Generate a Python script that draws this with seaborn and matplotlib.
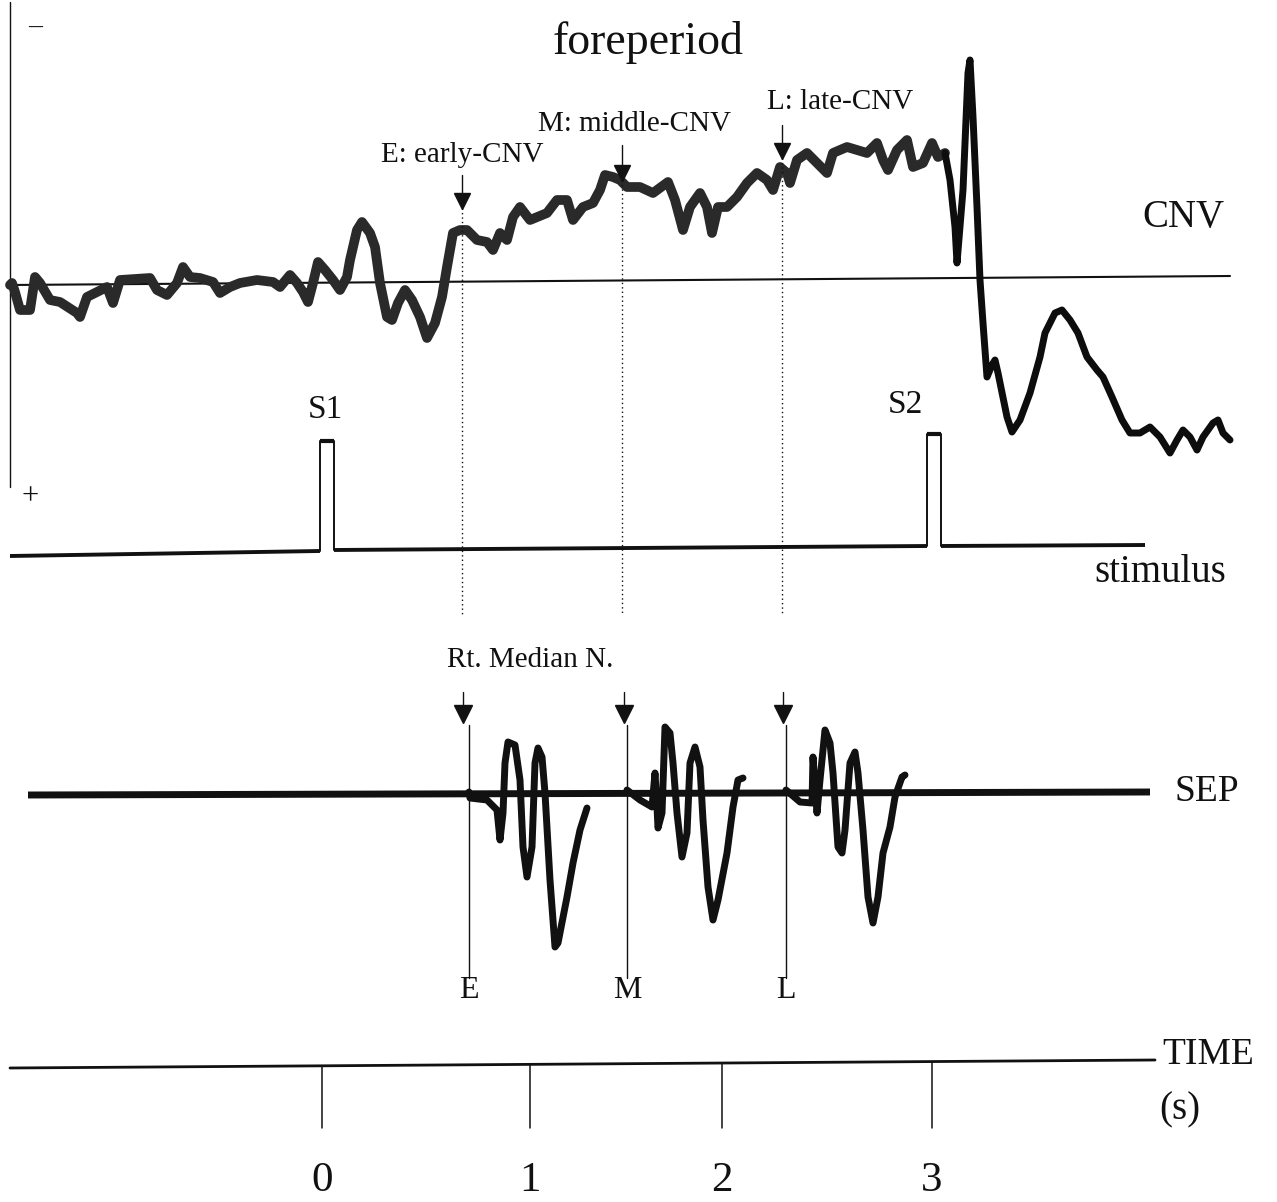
import matplotlib

matplotlib.use("Agg")

import matplotlib.pyplot as plt
import numpy as np
import pandas as pd
import seaborn as sns

# digitized diagram coordinates (x to the right, y downwards, as on the page)
CNV_PRE_X = [10, 12, 15, 20, 30, 35, 40, 50, 60, 77, 80, 87, 97, 107, 113, 120, 150, 157, 167, 177,
             183, 190, 200, 213, 220, 230, 240, 257, 273, 280, 290, 297, 303, 308, 313, 318, 325, 333,
             340, 347, 350, 357, 362, 370, 375, 380, 387, 392, 398, 405, 412, 420, 427, 435, 442, 447,
             453, 460, 467, 477, 487, 493, 500, 507, 513, 520, 530, 547, 557, 567, 573, 583, 593, 600,
             605, 613, 620, 627, 640, 653, 668, 675, 683, 690, 700, 707, 712, 718, 727, 737, 747, 757,
             767, 773, 780, 787, 790, 797, 807, 817, 827, 833, 847, 867, 877, 883, 888, 897, 907, 913,
             923, 932, 938, 945]
CNV_PRE_Y = [285, 283, 292, 310, 310, 277, 283, 300, 302, 313, 317, 297, 292, 287, 303, 280, 278, 290, 295, 283,
             267, 277, 278, 282, 293, 287, 283, 280, 282, 287, 275, 283, 292, 302, 283, 262, 270, 280,
             290, 277, 260, 230, 222, 233, 247, 283, 317, 320, 303, 290, 300, 317, 338, 323, 297, 267,
             233, 230, 230, 240, 242, 250, 233, 240, 217, 207, 220, 213, 200, 200, 220, 207, 203, 190,
             175, 177, 180, 187, 187, 193, 182, 200, 230, 207, 193, 207, 233, 207, 207, 197, 183, 173,
             180, 190, 167, 173, 183, 160, 153, 163, 173, 153, 147, 153, 143, 160, 170, 150, 140, 167,
             163, 143, 157, 153]
CNV_POST_X = [945, 950, 955, 957, 963, 968, 970, 973, 977, 980, 983, 987, 992, 995, 998, 1007, 1012, 1020,
              1030, 1040, 1045, 1055, 1062, 1070, 1078, 1087, 1097, 1103, 1112, 1122, 1130, 1140, 1150,
              1160, 1170, 1177, 1183, 1190, 1197, 1203, 1213, 1218, 1223, 1230]
CNV_POST_Y = [153, 180, 227, 263, 190, 73, 60, 117, 207, 280, 323, 377, 365, 360, 373, 417, 432, 420,
              393, 357, 333, 313, 310, 320, 333, 357, 370, 377, 397, 420, 433, 433, 427,
              437, 453, 440, 430, 437, 450, 437, 423, 420, 433, 440]
CNV_BASE_X = [10, 1230]
CNV_BASE_Y = [285, 276]

STIM_BASE_X = [[10, 320], [334, 927], [941, 1145]]
STIM_BASE_Y = [[556, 551], [550, 546], [546, 545]]
STIM_PULSE_X = [[320, 320, 334, 334], [927, 927, 941, 941]]
STIM_PULSE_Y = [[551, 441, 441, 550], [546, 434, 434, 546]]

SEP_BASE_X = [28, 1150]
SEP_BASE_Y = [795, 792]
SEP_E_X = [469, 470, 487, 497, 500, 503, 505, 508, 515, 520, 523, 527, 532, 535, 538, 542, 545, 550,
           555, 558, 567, 573, 580, 587]
SEP_E_Y = [792, 798, 800, 810, 840, 813, 763, 742, 745, 780, 847, 877, 847, 763, 748, 757, 793, 880,
           947, 943, 897, 863, 830, 808]
SEP_M_X = [627, 640, 652, 655, 657, 658, 662, 665, 670, 673, 677, 682, 687, 690, 695, 700, 703, 708,
           713, 718, 727, 733, 738, 743]
SEP_M_Y = [790, 800, 807, 773, 807, 828, 813, 727, 733, 763, 813, 857, 833, 763, 747, 767, 820, 887,
           920, 900, 853, 807, 780, 778]
SEP_L_X = [786, 800, 812, 813, 817, 820, 825, 830, 833, 838, 842, 845, 850, 855, 858, 863, 868, 873,
           878, 883, 890, 895, 902, 905]
SEP_L_Y = [790, 802, 803, 757, 813, 780, 730, 743, 773, 847, 853, 830, 763, 752, 773, 830, 897, 923,
           897, 853, 827, 797, 777, 775]

# E / M / L sampling points
CNV_MARK_X = [462, 622, 782]
CNV_ARROW_TOP = [175, 145, 125]
CNV_ARROW_TIP = [208, 180, 158]
CNV_MARK_LABELS = ["E: early-CNV", "M: middle-CNV", "L: late-CNV"]
SEP_ARROW_X = [463, 624, 783]
SEP_LINE_X = [469, 627, 786]
SEP_MARK_LABELS = ["E", "M", "L"]

TIME_AXIS_X = [10, 1155]
TIME_AXIS_Y = [1068, 1060]
TIME_TICK_X = [322, 530, 722, 932]
TIME_TICK_LABELS = ["0", "1", "2", "3"]

sns.set_theme(style="white")
plt.rcParams["font.family"] = ["Liberation Serif", "DejaVu Serif"]

fig = plt.figure(figsize=(12.77, 12.02), dpi=100)
ax = fig.add_axes([0, 0, 1, 1])
ax.set_xlim(0, 1277)
ax.set_ylim(1202, 0)
ax.axis("off")

ink = "#111111"

# left amplitude bar with polarity marks
ax.plot([10, 10], [2, 487], color=ink, lw=1.0)
ax.text(35, 27, "\u2013", ha="center", va="center", fontsize=20, color=ink)
ax.text(30, 497, "+", ha="center", va="center", fontsize=22, color=ink)

ax.text(648, 42, "foreperiod", ha="center", va="center", fontsize=33, color=ink)

# CNV
ax.plot(CNV_BASE_X, CNV_BASE_Y, color=ink, lw=1.5)
cnv_pre = pd.DataFrame({"x": CNV_PRE_X, "y": CNV_PRE_Y})
cnv_post = pd.DataFrame({"x": CNV_POST_X, "y": CNV_POST_Y})
sns.lineplot(data=cnv_pre, x="x", y="y", sort=False, estimator=None, ax=ax,
             color="#2a2a2a", lw=7.0, solid_joinstyle="round")
sns.lineplot(data=cnv_post, x="x", y="y", sort=False, estimator=None, ax=ax,
             color="#0d0d0d", lw=5.0, solid_joinstyle="round")
ax.text(1183, 218, "CNV", ha="center", va="center", fontsize=28, color=ink)

for x, top, tip in zip(CNV_MARK_X, CNV_ARROW_TOP, CNV_ARROW_TIP):
    ax.plot([x, x], [top, tip - 12], color=ink, lw=1.0)
    ax.plot(x, tip - 7, marker="v", ms=12, color=ink, mec=ink)
    ax.plot([x, x], [tip, 615], color=ink, lw=1.0, ls=(0, (1, 2.2)))
ax.text(462, 155, CNV_MARK_LABELS[0], ha="center", va="center", fontsize=21, color=ink)
ax.text(634, 124, CNV_MARK_LABELS[1], ha="center", va="center", fontsize=21, color=ink)
ax.text(840, 102, CNV_MARK_LABELS[2], ha="center", va="center", fontsize=21, color=ink)

# stimulus
for xs, ys in zip(STIM_BASE_X, STIM_BASE_Y):
    ax.plot(xs, ys, color=ink, lw=2.8, solid_capstyle="butt")
for xs, ys in zip(STIM_PULSE_X, STIM_PULSE_Y):
    ax.plot(xs, ys, color=ink, lw=1.4)
    ax.plot(xs[1:3], ys[1:3], color=ink, lw=3.0, solid_capstyle="butt")
ax.text(325, 410, "S1", ha="center", va="center", fontsize=24, color=ink)
ax.text(905, 405, "S2", ha="center", va="center", fontsize=24, color=ink)
ax.text(1160, 572, "stimulus", ha="center", va="center", fontsize=28, color=ink)

# SEP
ax.text(530, 660, "Rt. Median N.", ha="center", va="center", fontsize=21, color=ink)
ax.plot(SEP_BASE_X, SEP_BASE_Y, color=ink, lw=5.0, solid_capstyle="butt")
for xs, ys in [(SEP_E_X, SEP_E_Y), (SEP_M_X, SEP_M_Y), (SEP_L_X, SEP_L_Y)]:
    sns.lineplot(x=xs, y=ys, sort=False, estimator=None, ax=ax, color=ink, lw=5.0,
                 solid_joinstyle="round")
for xa, xl, lab in zip(SEP_ARROW_X, SEP_LINE_X, SEP_MARK_LABELS):
    ax.plot([xa, xa], [692, 712], color=ink, lw=1.0)
    ax.plot(xa, 714, marker="v", ms=13, color=ink, mec=ink)
    ax.plot([xl, xl], [725, 978], color=ink, lw=1.0)
    ax.text(xl, 991, lab, ha="center", va="center", fontsize=23, color=ink)
ax.text(1207, 792, "SEP", ha="center", va="center", fontsize=27, color=ink)

# time axis
ax.plot(TIME_AXIS_X, TIME_AXIS_Y, color=ink, lw=2.0)
for x, lab in zip(TIME_TICK_X, TIME_TICK_LABELS):
    y0 = np.interp(x, TIME_AXIS_X, TIME_AXIS_Y)
    ax.plot([x, x], [y0, 1128], color=ink, lw=1.1)
    ax.text(x, 1181, lab, ha="center", va="center", fontsize=31, color=ink)
ax.text(1208, 1055, "TIME", ha="center", va="center", fontsize=27, color=ink)
ax.text(1180, 1110, "(s)", ha="center", va="center", fontsize=28, color=ink)

fig.savefig("out.png", dpi=100, facecolor="white")
